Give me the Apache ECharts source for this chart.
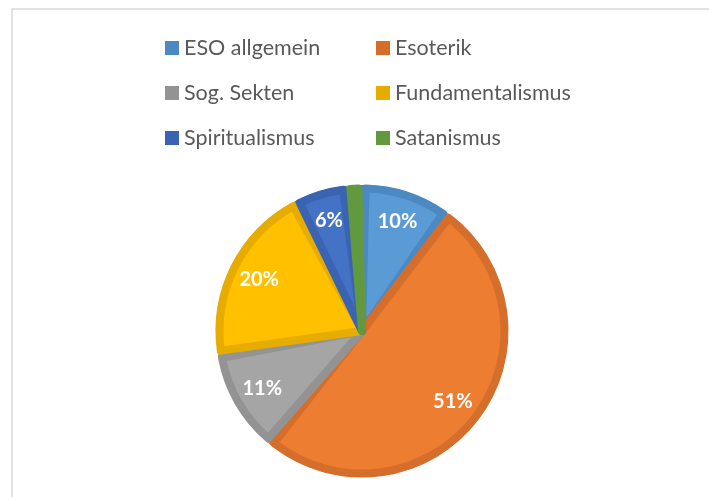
<!DOCTYPE html>
<html><head><meta charset="utf-8">
<script src="https://cdn.jsdelivr.net/npm/echarts@6/dist/echarts.min.js"></script>
<style>html,body{margin:0;padding:0;background:#fff}#c{width:709px;height:497px}</style>
</head><body><div id="c"></div>
<script>
const categories = ['ESO allgemein', 'Esoterik', 'Sog. Sekten', 'Fundamentalismus', 'Spiritualismus', 'Satanismus'];
const values = [10.0, 51.0, 11.4, 20.0, 5.9, 1.7];
const fillColors = ['#5B9BD5', '#ED7D31', '#A5A5A5', '#FFC000', '#4472C4', '#70AD47'];
const borderColors = ['#4C89C2', '#D56E2A', '#939393', '#E6AC00', '#3A64B2', '#62993E'];

const chart = echarts.init(document.getElementById('c'), null, {renderer: 'canvas'});
const center = [362, 331];
const legendText = {fontFamily: 'Lato', fontSize: 21.5, color: '#595959', lineHeight: 22};
chart.setOption({
  animation: false,
  graphic: [{type: 'rect', shape: {x: 12, y: 9, width: 800, height: 600}, style: {fill: 'none', stroke: '#d9d9d9', lineWidth: 1.5}, silent: true}],
  legend: [
    {orient: 'vertical', left: 160, top: 32, itemWidth: 14, itemHeight: 14, itemGap: 23, icon: 'rect',
     data: [categories[0], categories[2], categories[4]], textStyle: legendText},
    {orient: 'vertical', left: 371, top: 32, itemWidth: 14, itemHeight: 14, itemGap: 23, icon: 'rect',
     data: [categories[1], categories[3], categories[5]], textStyle: legendText}
  ],
  series: [
    {
      type: 'pie', center: center, radius: 146, startAngle: 90, clockwise: true,
      label: {show: false}, labelLine: {show: false}, silent: true,
      data: categories.map((n, i) => ({name: n, value: values[i],
        itemStyle: {color: borderColors[i]}}))
    },
    {
      type: 'pie', center: center, radius: 142.5, startAngle: 90, clockwise: true, padAngle: 2.9,
      label: {show: false}, labelLine: {show: false}, silent: true, legendHoverLink: false,
      data: categories.map((n, i) => ({name: n, value: values[i],
        itemStyle: {color: fillColors[i], borderColor: borderColors[i], borderWidth: 8, borderJoin: 'round'}}))
    },
    {
      type: 'pie', center: center, radius: [78, 146], startAngle: 90, clockwise: true, silent: true,
      percentPrecision: 0,
      label: {show: true, position: 'inside', formatter: '{d}%', color: '#fff', fontFamily: 'Lato', fontWeight: 'bold', fontSize: 20},
      labelLine: {show: false},
      itemStyle: {color: 'rgba(0,0,0,0)'},
      data: categories.map((n, i) => ({name: n, value: values[i]}))
    }
  ]
});
</script></body></html>
